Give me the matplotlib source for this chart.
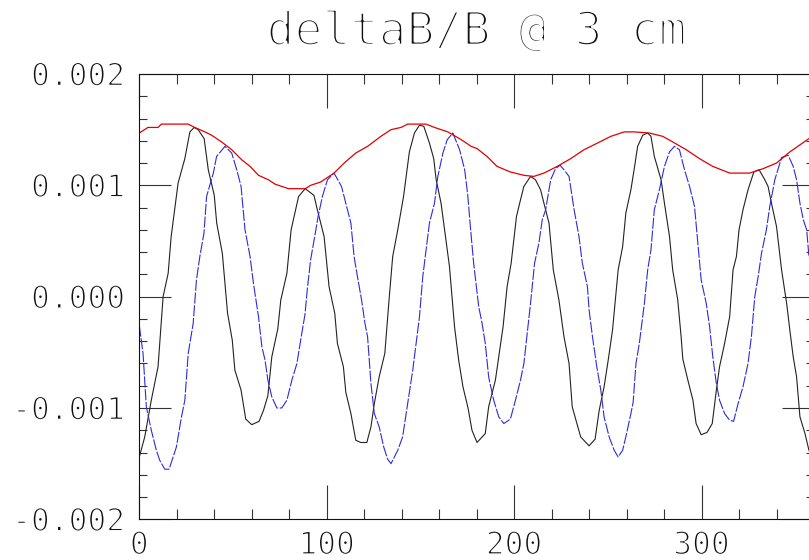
"""
deltaB/B @ 3 cm  -  field ripple versus angle
"""

import matplotlib
matplotlib.use('Agg')
import matplotlib.pyplot as plt
import matplotlib.patheffects as pe
from matplotlib.ticker import MultipleLocator, FixedLocator

# --- data (y in units of 1e-3) ---
x_black = [0, 2.9, 6.4, 10, 12.7, 15.4, 17, 20.7, 24.3, 27, 29.3, 31.4, 34.6, 36.8, 40,
           41.3, 44.3, 47.1, 49.6, 51, 54.3, 56.8, 60, 63.9, 66.3, 68.6, 70.7, 73.9, 75.5,
           78.75, 81, 85, 88.5, 93.2, 95, 98.6, 101.25, 104.3, 105.7, 108.9, 110.2, 112.9,
           115.5, 118.2, 121.4, 123.6, 125.4, 128, 131, 133.4, 135.2, 137.9, 141, 144.1,
           146.8, 149.5, 151.8, 154.8, 157.1, 158.4, 161, 162.9, 165.5, 168.2, 170.4, 172.7,
           175.4, 177.5, 180.2, 184.6, 186.4, 190, 191.8, 194.1, 196.25, 198.4, 201.25,
           203.4, 205.2, 208.75, 211.4, 214.1, 218.6, 220.9, 223.9, 226.6, 229.3, 231,
           235.5, 240, 243.2, 245.4, 248, 250.2, 252.5, 255.5, 257.9, 259.6, 262.3, 264.1,
           265.9, 268.6, 271.25, 273, 274.8, 278.4, 280.2, 282.9, 284.6, 287.3, 289.1, 290,
           292.7, 295.4, 297.1, 299.8, 302.9, 305.7, 307.9, 309.6, 312.3, 315, 316.8, 318.6,
           320, 322.1, 324.8, 327.9, 330.7, 333.75, 335.5, 337.3, 340, 342.7, 345.4, 347.1,
           348.9, 350.7, 352.5, 355.2, 357.3, 360]
y_black = [-1.44, -1.26, -0.93, -0.63, 0.0, 0.21, 0.54, 1.02, 1.24, 1.48, 1.52, 1.50, 1.42,
           1.14, 0.91, 0.66, 0.39, -0.15, -0.39, -0.66, -0.84, -1.10, -1.15, -1.12, -1.02,
           -0.89, -0.54, -0.29, -0.03, 0.21, 0.60, 0.90, 0.97, 0.91, 0.78, 0.54, 0.09, -0.15,
           -0.42, -0.63, -0.86, -1.05, -1.29, -1.31, -1.31, -1.17, -0.96, -0.72, -0.51, 0.0,
           0.36, 0.60, 0.90, 1.30, 1.47, 1.54, 1.53, 1.38, 1.24, 1.05, 0.84, 0.60, 0.27,
           -0.27, -0.57, -0.81, -1.0, -1.2, -1.31, -1.23, -0.99, -0.75, -0.54, -0.27, 0.09,
           0.30, 0.72, 0.87, 0.99, 1.08, 1.05, 0.96, 0.66, 0.24, -0.03, -0.36, -0.60, -0.99,
           -1.26, -1.34, -1.28, -1.02, -0.81, -0.57, -0.30, 0.24, 0.45, 0.75, 0.96, 1.15,
           1.35, 1.45, 1.47, 1.44, 1.26, 1.05, 0.84, 0.54, 0.24, -0.03, -0.36, -0.56, -0.75,
           -0.93, -1.14, -1.24, -1.22, -1.14, -0.84, -0.63, -0.42, -0.18, 0.24, 0.36, 0.60,
           0.78, 0.96, 1.12, 1.14, 1.05, 0.99, 0.84, 0.63, 0.24, -0.06, -0.30, -0.54, -0.72,
           -1.08, -1.23, -1.38, -1.45]

x_blue = [0, 2, 3.75, 6.4, 9.1, 10.9, 13.6, 15.9, 19.8, 22.5, 24.3, 26.1, 28.75, 30.5, 32.3,
          34.5, 35.9, 39.5, 41.25, 45.7, 49.3, 52, 54.3, 56.4, 59.1, 60.9, 63.6, 65.4, 67.1,
          68.6, 70.7, 73.4, 76, 78.75, 81.4, 84.1, 86.4, 88.4, 89.6, 91.4, 93.6, 95.4, 97.7,
          100.4, 103.9, 107.9, 110.2, 112.9, 114.6, 116.4, 118.6, 120.4, 121.8, 123.6, 125.4,
          128, 130.4, 132.5, 134.3, 137.9, 140.5, 143.2, 145.9, 147.7, 149.5, 151.25, 153,
          154.8, 157.5, 159.3, 162, 164.3, 167.3, 170.9, 173.6, 175.2, 176.8, 178.4, 181.1,
          182.9, 184.6, 186.4, 189.1, 191.8, 194.5, 198, 200.7, 203.4, 205.2, 207, 208.75,
          210.9, 213.2, 215, 216.8, 219.5, 222.1, 224.5, 226.6, 229.3, 232, 234.6, 236.4,
          239.1, 240, 241.8, 244.1, 246.25, 248, 250.7, 253.4, 255.5, 257.9, 260, 262.3,
          263.5, 265, 266.8, 269.5, 271.25, 273, 274.8, 277.5, 280.2, 282.9, 285.5, 288.2,
          290.9, 293.6, 296.25, 298, 299.8, 302.5, 304.3, 306, 307.9, 309.6, 312.3, 315,
          317.1, 319.5, 322.1, 324.8, 326.6, 328.4, 330.2, 332, 334.6, 336.4, 339.1, 342.7,
          346.25, 348.9, 350.7, 352.5, 354.3, 356.1, 357.3, 360]
y_blue = [-0.26, -0.51, -0.99, -1.20, -1.38, -1.47, -1.55, -1.55, -1.35, -1.08, -0.93, -0.51,
          -0.24, 0.15, 0.36, 0.57, 0.90, 1.11, 1.26, 1.35, 1.29, 1.14, 0.99, 0.60, 0.36, 0.12,
          -0.18, -0.45, -0.57, -0.75, -0.90, -1.00, -1.00, -0.93, -0.75, -0.60, -0.36, -0.16,
          0.06, 0.33, 0.54, 0.72, 0.90, 1.05, 1.11, 0.99, 0.84, 0.66, 0.36, 0.18, -0.03,
          -0.24, -0.36, -0.78, -1.05, -1.17, -1.35, -1.46, -1.50, -1.38, -1.26, -0.96, -0.66,
          -0.42, -0.18, 0.18, 0.42, 0.66, 0.84, 1.08, 1.29, 1.41, 1.47, 1.32, 1.14, 0.92, 0.60,
          0.30, -0.09, -0.24, -0.42, -0.72, -0.93, -1.08, -1.14, -1.10, -0.93, -0.75, -0.60,
          -0.33, -0.06, 0.30, 0.48, 0.69, 0.78, 1.05, 1.15, 1.18, 1.14, 1.08, 0.78, 0.54,
          0.30, 0.09, -0.12, -0.36, -0.63, -0.84, -1.08, -1.26, -1.38, -1.44, -1.38, -1.23,
          -1.05, -0.95, -0.60, -0.42, -0.06, 0.24, 0.42, 0.78, 0.96, 1.17, 1.30, 1.35, 1.32,
          1.14, 0.99, 0.81, 0.48, 0.15, -0.06, -0.27, -0.54, -0.78, -0.93, -1.05, -1.11,
          -1.12, -0.96, -0.81, -0.60, -0.36, 0.0, 0.18, 0.39, 0.60, 0.81, 1.05, 1.25, 1.27,
          1.17, 1.05, 0.84, 0.69, 0.60, 0.36, 0.25]

x_red = [0, 4.6, 10, 11.8, 26, 29.6, 35, 38.6, 43.9, 49.3, 54.6, 59.1, 63.6, 68.9, 72.5,
         79.6, 88.6, 91.4, 96.8, 103.9, 109.3, 115.5, 121.8, 128.9, 134.3, 139.6, 143.2, 153,
         157.5, 164.6, 171.8, 177.1, 180.2, 185.5, 190.9, 198, 205.2, 210.5, 215.9, 223,
         230.2, 237.3, 244.5, 251.6, 258.75, 264, 272.1, 279.3, 284.6, 291.8, 298.9, 306,
         315, 325.7, 332.9, 340, 347.1, 357.3, 360]
y_red = [1.47, 1.52, 1.52, 1.55, 1.55, 1.52, 1.48, 1.45, 1.39, 1.32, 1.23, 1.17, 1.09, 1.05,
         1.01, 0.97, 0.97, 1.0, 1.03, 1.11, 1.20, 1.29, 1.35, 1.44, 1.50, 1.52, 1.55, 1.55,
         1.52, 1.48, 1.41, 1.35, 1.33, 1.26, 1.17, 1.12, 1.09, 1.08, 1.11, 1.17, 1.24, 1.32,
         1.38, 1.44, 1.48, 1.48, 1.47, 1.44, 1.39, 1.32, 1.24, 1.17, 1.11, 1.11, 1.15, 1.20,
         1.30, 1.42, 1.44]

y_ticks = [-0.002, -0.001, 0.0, 0.001, 0.002]
y_ticklabels = ['-0.002', '-0.001', '0.000', '0.001', '0.002']
x_ticks = [0, 100, 200, 300]
title = 'deltaB/B @ 3 cm'

plt.rcParams['font.family'] = ['DejaVu Sans Mono', 'DejaVu Sans']

fig = plt.figure(figsize=(8.09, 5.60), dpi=100)
# the right frame edge falls just outside the picture, as in the original
ax = fig.add_axes([139.3 / 809, 40.7 / 560, (814 - 139.3) / 809, (519.3 - 74) / 560])

sc = 1e-3
ax.plot(x_black, [v * sc for v in y_black], color='#222222', lw=0.8)
ax.plot(x_blue, [v * sc for v in y_blue], color='#2b2bdc', lw=0.8, dashes=(10, 1.5))
ax.plot(x_red, [v * sc for v in y_red], color='#e00000', lw=0.9)

ax.set_xlim(0, 360)
ax.set_ylim(-0.002, 0.002)

ax.xaxis.set_major_locator(FixedLocator(x_ticks))
ax.xaxis.set_minor_locator(MultipleLocator(20))
ax.yaxis.set_major_locator(FixedLocator(y_ticks))
ax.yaxis.set_minor_locator(MultipleLocator(0.0002))
ax.set_yticklabels(y_ticklabels)
ax.set_xticklabels([str(t) for t in x_ticks])

ax.tick_params(axis='both', which='both', direction='in', top=True, right=True,
               color='#333333', width=0.8, labelsize=22.5, labelcolor='#111111')
ax.tick_params(axis='x', which='major', length=24.5, pad=8.5)
ax.tick_params(axis='x', which='minor', length=7.2)
ax.tick_params(axis='y', which='major', length=23, pad=10)
ax.tick_params(axis='y', which='minor', length=5.5)

for sp in ax.spines.values():
    sp.set_linewidth(0.8)
    sp.set_color('#111111')

# thin the glyph strokes: a white outline eats into the filled letters
thin_small = [pe.Stroke(linewidth=1.1, foreground='white')]
for lab in ax.get_xticklabels() + ax.get_yticklabels():
    lab.set_path_effects(thin_small)

fig.text(0.589, (560 - 45) / 560, title, ha='center', va='baseline',
         fontsize=33.5, color='#111111',
         path_effects=[pe.Stroke(linewidth=2.0, foreground='white')])

fig.savefig('out.png', dpi=100)
